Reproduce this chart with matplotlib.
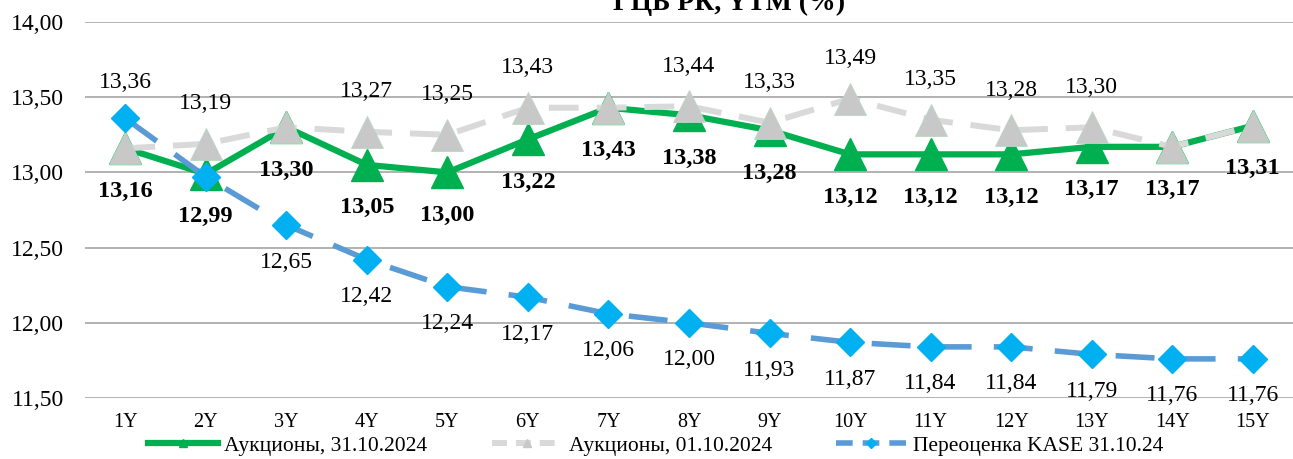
import numpy as np
import matplotlib
matplotlib.use("Agg")
import matplotlib.pyplot as plt
from matplotlib.lines import Line2D

plt.rcParams['font.family'] = ['Liberation Serif', 'DejaVu Serif']

# data
tenors = ["1Y", "2Y", "3Y", "4Y", "5Y", "6Y", "7Y", "8Y", "9Y", "10Y",
          "11Y", "12Y", "13Y", "14Y", "15Y"]
auction_oct31 = [13.16, 12.99, 13.30, 13.05, 13.00, 13.22, 13.43, 13.38,
                 13.28, 13.12, 13.12, 13.12, 13.17, 13.17, 13.31]
auction_oct01 = [13.16, 13.19, 13.30, 13.27, 13.25, 13.43, 13.43, 13.44,
                 13.33, 13.49, 13.35, 13.28, 13.30, 13.17, 13.31]
kase_oct31 = [13.36, 12.97, 12.65, 12.42, 12.24, 12.17, 12.06, 12.00,
              11.93, 11.87, 11.84, 11.84, 11.79, 11.76, 11.76]
# which points carry a visible value label
show_oct01 = [0, 1, 0, 1, 1, 1, 0, 1, 1, 1, 1, 1, 1, 0, 0]
show_kase = [1, 0, 1, 1, 1, 1, 1, 1, 1, 1, 1, 1, 1, 1, 1]

names = ["Аукционы, 31.10.2024", "Аукционы, 01.10.2024",
         "Переоценка KASE 31.10.24"]


def fmt(v):
    return f"{v:.2f}".replace('.', ',')


fig = plt.figure(figsize=(12.93, 4.59), dpi=100)
ax = fig.add_axes([85 / 1293, 1 - 398 / 459, 1208 / 1293, 376 / 459])

x = np.arange(len(tenors))

ax.plot(x, auction_oct31, color='#00B050', lw=4.5, marker='^', ms=23,
        mfc='#00B050', mec='#00B050', zorder=3)
ax.plot(x, auction_oct01, color='#D9D9D9', lw=4.3, ls=(0, (5, 3)),
        marker='^', ms=23, mfc='#C8C8C8', mec='#B8D8C0', mew=0.6, zorder=4)
ax.plot(x, kase_oct31, color='#5B9BD5', lw=4, ls=(0, (7, 4)),
        marker='D', ms=14, mfc='#00B0F0', mec='#00B0F0', zorder=5)

# value labels
for i, v in enumerate(auction_oct31):
    ax.annotate(fmt(v), (i, v), xytext=(0, -43), textcoords='offset pixels',
                ha='center', va='center', fontsize=17.5, fontweight='bold',
                zorder=6)
for i, v in enumerate(auction_oct01):
    if show_oct01[i]:
        ax.annotate(fmt(v), (i, v), xytext=(0, 40), textcoords='offset pixels',
                    ha='center', va='center', fontsize=17, zorder=6)
for i, v in enumerate(kase_oct31):
    if show_kase[i]:
        dy = 36 if i == 0 else -37
        ax.annotate(fmt(v), (i, v), xytext=(0, dy), textcoords='offset pixels',
                    ha='center', va='center', fontsize=17, zorder=6)

ax.set_xlim(-0.5, len(tenors) - 0.5)
ax.set_ylim(11.5, 14.0)
yt = np.arange(11.5, 14.01, 0.5)
ax.set_yticks(yt)
ax.set_yticklabels([fmt(t) for t in yt], fontsize=17)
ax.set_xticks(x)
ax.set_xticklabels(tenors, fontsize=14.5)
ax.tick_params(axis='both', length=0)
ax.tick_params(axis='y', pad=15)
ax.tick_params(axis='x', pad=11)
ax.yaxis.grid(True, color='#A6A6A6', lw=1.2)
ax.set_axisbelow(True)
for s in ax.spines.values():
    s.set_visible(False)

fig.text(0.564, 1 - 10 / 459, "ГЦБ РК, YTM (%)", ha='center', va='baseline',
         fontsize=20, fontweight='bold')

handles = [
    Line2D([], [], color='#00B050', lw=4.5, marker='^', ms=6,
           mfc='#00B050', mec='#00B050'),
    Line2D([], [], color='#D9D9D9', lw=4.3, ls=(0, (2.5, 1.5)), marker='^',
           ms=6, mfc='#C8C8C8', mec='#C8C8C8'),
    Line2D([], [], color='#5B9BD5', lw=4, ls=(0, (3, 1.8)), marker='D',
           ms=5, mfc='#00B0F0', mec='#00B0F0'),
]
fig.legend(handles, names, loc='center', bbox_to_anchor=(0.507, 1 - 446 / 459),
           ncol=3, frameon=False, fontsize=15.5, handlelength=3.25,
           handletextpad=0.3, columnspacing=3.0)

fig.savefig("out.png", dpi=100)
